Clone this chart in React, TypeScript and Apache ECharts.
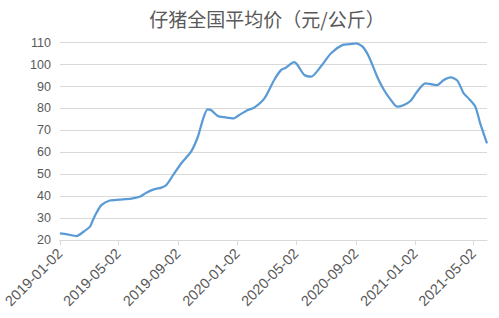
import React, { useEffect, useRef } from "react";
import * as echarts from "echarts";

const dates: string[] = [
  "2019-01-02", "2019-01-17", "2019-02-05", "2019-02-21", "2019-03-05", "2019-03-11",
  "2019-03-18", "2019-03-29", "2019-04-15", "2019-05-05", "2019-05-29", "2019-06-15",
  "2019-06-29", "2019-07-16", "2019-07-30", "2019-08-09", "2019-08-23", "2019-09-09",
  "2019-09-29", "2019-10-13", "2019-10-23", "2019-11-02", "2019-11-09", "2019-11-23",
  "2019-12-07", "2019-12-26", "2020-01-06", "2020-01-24", "2020-02-06", "2020-02-27",
  "2020-03-18", "2020-04-01", "2020-04-11", "2020-04-28", "2020-05-05", "2020-05-19",
  "2020-06-02", "2020-06-22", "2020-07-13", "2020-08-06", "2020-08-20", "2020-09-02",
  "2020-09-16", "2020-09-29", "2020-10-16", "2020-10-30", "2020-11-13", "2020-11-26",
  "2020-12-10", "2020-12-24", "2021-01-06", "2021-01-23", "2021-02-16", "2021-03-02",
  "2021-03-16", "2021-03-30", "2021-04-12", "2021-04-22", "2021-05-06", "2021-05-16",
  "2021-05-30",
];

const prices: number[] = [
  23.0, 22.6, 21.8, 24.0, 26.1, 29.1,
  32.3, 36.0, 38.0, 38.4, 38.9, 39.7,
  41.6, 43.2, 43.9, 45.1, 49.6, 55.0,
  60.3, 67.1, 74.7, 79.6, 79.3, 76.6,
  76.0, 75.5, 77.0, 79.3, 80.4, 84.6,
  93.0, 97.5, 98.6, 101.1, 99.8, 95.3,
  94.5, 99.1, 105.2, 109.0, 109.3, 109.7,
  108.2, 103.6, 94.5, 88.4, 83.9, 80.8,
  81.6, 83.5, 87.6, 91.5, 90.7, 93.0,
  94.2, 92.7, 86.9, 84.6, 80.8, 73.2,
  64.1,
];

const tickDates: string[] = [
  "2019-01-02", "2019-05-02", "2019-09-02", "2020-01-02",
  "2020-05-02", "2020-09-02", "2021-01-02", "2021-05-02",
];

const titleText = "仔猪全国平均价（元/公斤）";

const DAY = 86400000;

function toUTC(s: string): number {
  const [y, m, d] = s.split("-").map(Number);
  return Date.UTC(y, m - 1, d);
}

const base = toUTC(dates[0]);

function toDay(s: string): number {
  return Math.round((toUTC(s) - base) / DAY);
}

function fmt(day: number): string {
  const d = new Date(base + Math.round(day) * DAY);
  const p = (n: number) => (n < 10 ? "0" + n : "" + n);
  return d.getUTCFullYear() + "-" + p(d.getUTCMonth() + 1) + "-" + p(d.getUTCDate());
}

export default function App() {
  const ref = useRef<HTMLDivElement>(null);
  useEffect(() => {
    if (!ref.current) return;
    const chart = echarts.init(ref.current, null, { renderer: "svg" });
    const ticks = tickDates.map(toDay);
    chart.setOption({
      animation: false,
      backgroundColor: "#ffffff",
      title: {
        text: titleText,
        left: 262,
        top: 4,
        textAlign: "center",
        textStyle: {
          fontFamily: "Noto Sans CJK SC",
          fontSize: 19,
          fontWeight: "normal",
          color: "#595959",
        },
      },
      grid: { left: 58, right: 12, top: 42.7, bottom: 78, containLabel: false },
      xAxis: {
        type: "value",
        min: 0,
        max: toDay(dates[dates.length - 1]),
        axisLine: { show: true, lineStyle: { color: "#d9d9d9", width: 1 } },
        axisTick: {
          show: true,
          customValues: ticks,
          length: 5,
          lineStyle: { color: "#d9d9d9" },
        },
        axisLabel: {
          customValues: ticks,
          rotate: 45,
          formatter: (v: number) => fmt(v),
          color: "#595959",
          fontSize: 14.5,
          fontFamily: "Liberation Sans",
          margin: 11,
        },
        splitLine: { show: false },
      },
      yAxis: {
        type: "value",
        min: 20,
        max: 110,
        interval: 10,
        axisLine: { show: false },
        axisTick: { show: false },
        axisLabel: {
          color: "#595959",
          fontSize: 12.5,
          fontFamily: "Liberation Sans",
          margin: 9,
        },
        splitLine: { lineStyle: { color: "#d9d9d9", width: 1 } },
      },
      series: [
        {
          type: "line",
          data: dates.map((d, i) => [toDay(d), prices[i]]),
          showSymbol: false,
          smooth: 0.25,
          lineStyle: { color: "#5b9bd5", width: 2.25 },
          itemStyle: { color: "#5b9bd5" },
        },
      ],
    });
    return () => chart.dispose();
  }, []);
  return <div ref={ref} style={{ width: 499, height: 318, position: "absolute", left: 0, top: 0 }} />;
}
